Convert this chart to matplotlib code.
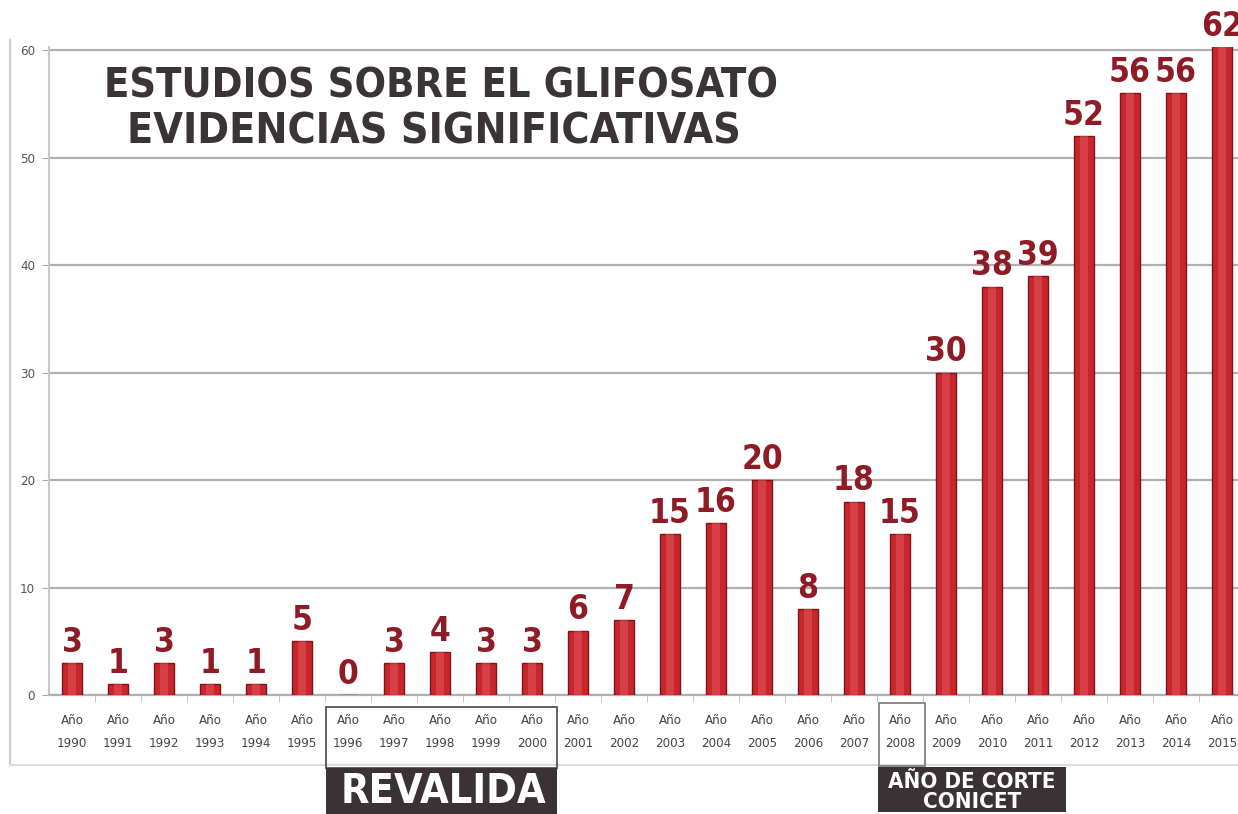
import matplotlib
matplotlib.use("Agg")
import matplotlib.pyplot as plt
from matplotlib.patches import Rectangle
from matplotlib.lines import Line2D

years = [str(y) for y in range(1990, 2016)]
values = [3, 1, 3, 1, 1, 5, 0, 3, 4, 3, 3, 6, 7, 15, 16, 20, 8, 18, 15, 30, 38, 39, 52, 56, 56, 62]
tick_labels = ["Año\n" + y for y in years]
title_lines = ["ESTUDIOS SOBRE EL GLIFOSATO", "EVIDENCIAS SIGNIFICATIVAS"]
y_ticks = [0, 10, 20, 30, 40, 50, 60]
y_top = 60.3

label_font = dict(family=["DejaVu Sans"], fontstretch="condensed", fontweight="bold")

W, H = 1238, 814
fig = plt.figure(figsize=(W / 100, H / 100), dpi=100)
fig.patch.set_facecolor("white")

def fx(px):
    return px / W

def fy(py):
    return 1 - py / H

ax = fig.add_axes([fx(49), fy(695), fx(1245 - 49), (695 - 47) / H])
x = list(range(len(values)))
ax.bar(x, values, width=0.44, color="#c8262d", edgecolor="#7e1419", linewidth=1.0, zorder=3)
ax.bar(x, values, width=0.16, color="#e4585c", linewidth=0, alpha=0.5, zorder=4)
ax.set_xlim(-0.5, len(values) - 0.5)
ax.set_ylim(0, y_top)
ax.set_yticks(y_ticks)
ax.set_yticklabels([str(v) for v in y_ticks], fontsize=9.5, color="#555555", fontstretch="condensed")
ax.set_xticks(x)
ax.set_xticklabels(tick_labels, fontsize=9.5, color="#444444", linespacing=2.0,
                   fontstretch="condensed")
ax.set_xticks([i + 0.5 for i in x[:-1]], minor=True)
ax.tick_params(axis="x", which="major", length=0, pad=14)
ax.tick_params(axis="x", which="minor", length=5, color="#bbbbbb", direction="out")
ax.tick_params(axis="y", length=5, color="#aaaaaa", pad=5)
ax.grid(axis="y", color="#b0b0b0", linewidth=1.6, zorder=0)
for s in ["top", "right"]:
    ax.spines[s].set_visible(False)
ax.spines["left"].set_color("#c8c8c8")
ax.spines["left"].set_linewidth(1.5)
ax.spines["bottom"].set_color("#b0b0b0")
ax.spines["bottom"].set_linewidth(1.6)

for xi, v in zip(x, values):
    ax.annotate(str(v), (xi, min(v, y_top)), xytext=(0, 3), textcoords="offset points",
                ha="center", va="bottom", fontsize=24, color="#8e1b25",
                annotation_clip=False, zorder=5, **label_font)

# outer chart frame
fig.add_artist(Line2D([fx(10), fx(10)], [fy(40), fy(765)], color="#cfcfcf", lw=1.5))
fig.add_artist(Line2D([fx(10), fx(1238)], [fy(765), fy(765)], color="#dddddd", lw=1.5))

renderer = fig.canvas.get_renderer()

def fit(t, target_w):
    bb = t.get_window_extent(renderer)
    t.set_fontsize(t.get_fontsize() * target_w / bb.width)

t1 = fig.text(fx(441), fy(87), title_lines[0], ha="center", va="center", fontsize=30,
              color="#3a3436", **label_font)
fit(t1, 673)
t2 = fig.text(fx(434), fy(131), title_lines[1], ha="center", va="center", fontsize=30,
              color="#3a3436", **label_font)
fit(t2, 612)

# REVALIDA box
fig.add_artist(Rectangle((fx(326), fy(768)), fx(557 - 326), (768 - 707) / H,
                         facecolor="none", edgecolor="#555555", lw=1.3, zorder=6))
fig.add_artist(Rectangle((fx(326), fy(814)), fx(557 - 326), (814 - 768) / H,
                         facecolor="#3a3234", edgecolor="none", zorder=6))
t3 = fig.text(fx(443), fy(792), "REVALIDA", ha="center", va="center", fontsize=30,
              color="white", zorder=7, **label_font)
fit(t3, 205)

# 2008 box
fig.add_artist(Rectangle((fx(879), fy(766)), fx(925 - 879), (766 - 703) / H,
                         facecolor="none", edgecolor="#777777", lw=1.2, zorder=6))
fig.add_artist(Rectangle((fx(878), fy(812)), fx(1066 - 878), (812 - 767) / H,
                         facecolor="#3a3234", edgecolor="none", zorder=6))
t4 = fig.text(fx(972), fy(782), "AÑO DE CORTE", ha="center", va="center", fontsize=14,
              color="white", zorder=7, **label_font)
fit(t4, 168)
t5 = fig.text(fx(972), fy(802), "CONICET", ha="center", va="center", fontsize=t4.get_fontsize(),
              color="white", zorder=7, **label_font)

fig.savefig("out.png", dpi=100)
